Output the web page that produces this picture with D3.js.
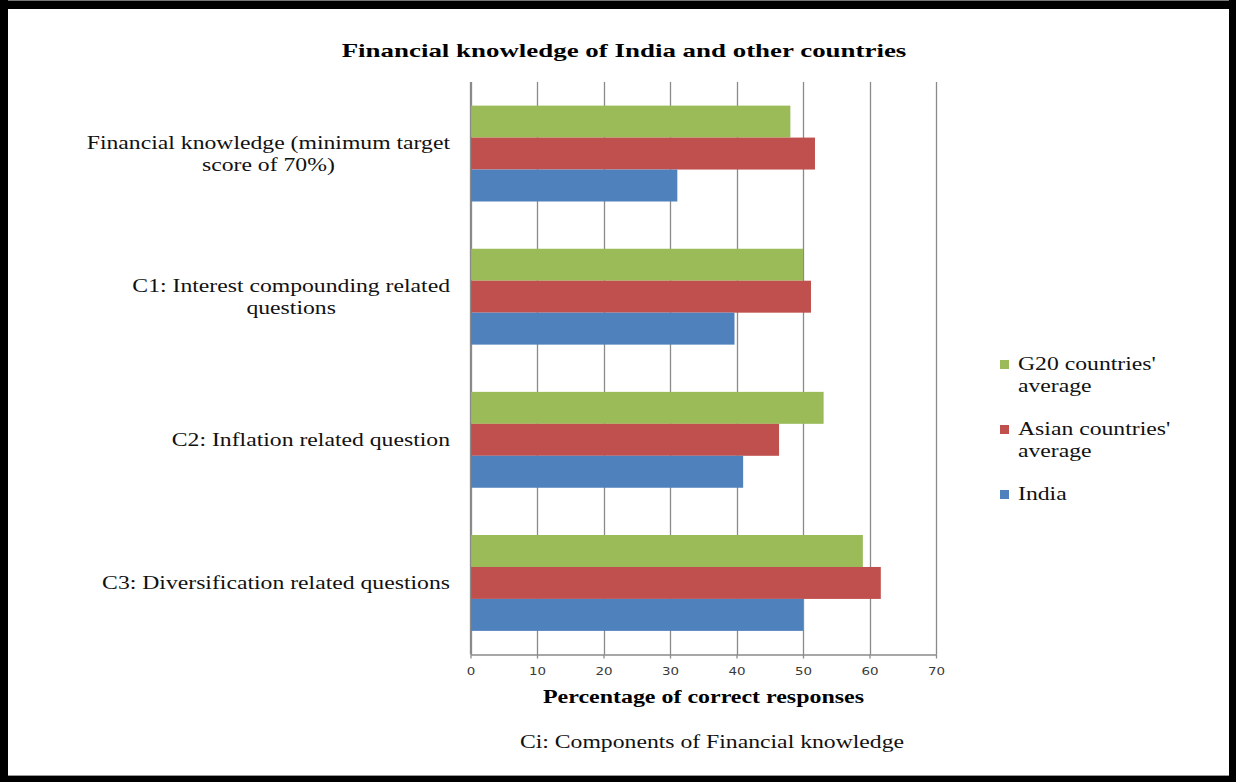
<!DOCTYPE html>
<html>
<head>
<meta charset="utf-8">
<script src="https://cdn.jsdelivr.net/npm/d3@7"></script>
<style>
  html, body { margin: 0; padding: 0; background: #fff; }
  svg { display: block; }
</style>
</head>
<body>
<svg id="chart" width="1236" height="782"></svg>
<script>
// ---------------- DATA ----------------
const categories = [
  "Financial knowledge (minimum target score of 70%)",
  "C1: Interest compounding related questions",
  "C2: Inflation related question",
  "C3: Diversification related questions"
];
const categoryLines = [
  ["Financial knowledge (minimum target", "score of 70%)"],
  ["C1: Interest compounding related", "questions"],
  ["C2: Inflation related question"],
  ["C3: Diversification related questions"]
];
const seriesNames = ["G20 countries' average", "Asian countries' average", "India"];
const legendLines = [["G20 countries'", "average"], ["Asian countries'", "average"], ["India"]];
const g20Values = [48.1, 50.0, 53.1, 59.0];
const asianValues = [51.8, 51.2, 46.4, 61.7];
const indiaValues = [31.1, 39.7, 41.0, 50.0];
const xTicks = [0, 10, 20, 30, 40, 50, 60, 70];
const seriesColors = ["#9BBB59", "#C0504D", "#4F81BD"];
const titleText = "Financial knowledge of India and other countries";
const xAxisTitle = "Percentage of correct responses";
const noteText = "Ci: Components of Financial knowledge";

// ---------------- LAYOUT ----------------
const W = 1236, H = 782;
const plot = { left: 470.5, right: 936, top: 82, bottom: 654.5 };
const SX = 1.28; // horizontal stretch of the source image text
const serif = "'Liberation Serif', 'Times New Roman', serif";
const sans = "'DejaVu Sans', Verdana, sans-serif";

const svg = d3.select("#chart");
svg.append("rect").attr("width", W).attr("height", H).attr("fill", "#fff");

function stretch(sel, sx) {
  sel.each(function () {
    const w = this.getComputedTextLength();
    d3.select(this).attr("textLength", w * sx).attr("lengthAdjust", "spacingAndGlyphs");
  });
  return sel;
}

const seriesData = [g20Values, asianValues, indiaValues];

const x = d3.scaleLinear().domain([0, 70]).range([plot.left, plot.right]);
const y = d3.scaleBand().domain(categories).range([plot.top, plot.bottom])
  .paddingInner(0.33).paddingOuter(0.165);
const ys = d3.scaleBand().domain(seriesNames).range([0, y.bandwidth()]);

// gridlines
const grid = svg.append("g");
grid.selectAll("line").data(xTicks).join("line")
  .attr("x1", d => Math.round(x(d)) + 0.5).attr("x2", d => Math.round(x(d)) + 0.5)
  .attr("y1", plot.top).attr("y2", plot.bottom)
  .attr("stroke", "#8a8a8a").attr("stroke-width", 1.3);

// bars
const groups = svg.append("g").selectAll("g").data(categories).join("g")
  .attr("transform", d => `translate(0,${y(d)})`);
groups.each(function (cat, ci) {
  d3.select(this).selectAll("rect").data(seriesNames).join("rect")
    .attr("x", x(0))
    .attr("y", s => ys(s))
    .attr("width", (s, si) => x(seriesData[si][ci]) - x(0))
    .attr("height", ys.bandwidth())
    .attr("fill", (s, si) => seriesColors[si]);
});

// x axis
const xAxis = d3.axisBottom(x).tickValues(xTicks).tickSize(4).tickPadding(9).tickSizeOuter(0);
const gx = svg.append("g").attr("transform", `translate(0,${plot.bottom})`).call(xAxis);
gx.select(".domain").attr("stroke", "#8a8a8a").attr("stroke-width", 1.3);
gx.selectAll(".tick line").attr("stroke", "#8a8a8a").attr("stroke-width", 1.3);
gx.selectAll(".tick text").attr("font-family", sans).attr("font-size", 11).attr("fill", "#3a3a3a");
stretch(gx.selectAll(".tick text"), 1.22);

// y axis line (left)
svg.append("line").attr("x1", plot.left).attr("x2", plot.left)
  .attr("y1", plot.top).attr("y2", plot.bottom).attr("stroke", "#8a8a8a").attr("stroke-width", 1.3);

// category labels
const labelRight = 450, lh = 22.5;
categories.forEach((cat, ci) => {
  const lines = categoryLines[ci];
  const cy = y(cat) + y.bandwidth() / 2;
  const g = svg.append("g");
  const texts = g.selectAll("text").data(lines).join("text")
    .attr("font-family", serif).attr("font-size", 18.5).attr("fill", "#111")
    .attr("text-anchor", "middle")
    .attr("y", (d, i) => cy + (i - (lines.length - 1) / 2) * lh + 6.5)
    .text(d => d);
  let maxW = 0;
  texts.each(function () { maxW = Math.max(maxW, this.getComputedTextLength() * SX); });
  stretch(texts, SX);
  texts.attr("x", labelRight - maxW / 2);
});

// title
stretch(svg.append("text").attr("x", 624).attr("y", 57).attr("text-anchor", "middle")
  .attr("font-family", serif).attr("font-weight", "bold").attr("font-size", 19.5)
  .attr("fill", "#000").text(titleText), 1.38);

// x axis title
stretch(svg.append("text").attr("x", 703.5).attr("y", 703).attr("text-anchor", "middle")
  .attr("font-family", serif).attr("font-weight", "bold").attr("font-size", 18)
  .attr("fill", "#000").text(xAxisTitle), 1.33);

// note
stretch(svg.append("text").attr("x", 712).attr("y", 748).attr("text-anchor", "middle")
  .attr("font-family", serif).attr("font-size", 18.5)
  .attr("fill", "#111").text(noteText), SX);

// legend
const legX = 1000, legTextX = 1018;
const legBase = [370, 435, 500];
seriesNames.forEach((s, si) => {
  const g = svg.append("g");
  g.append("rect").attr("x", legX).attr("y", legBase[si] - 10).attr("width", 9).attr("height", 9)
    .attr("fill", seriesColors[si]);
  const t = g.selectAll("text").data(legendLines[si]).join("text")
    .attr("x", legTextX).attr("y", (d, i) => legBase[si] + i * 22)
    .attr("font-family", serif).attr("font-size", 18.5).attr("fill", "#111")
    .text(d => d);
  stretch(t, SX);
});

// frame
svg.append("line").attr("x1", 0).attr("x2", W).attr("y1", 0.5).attr("y2", 0.5).attr("stroke", "#777");
svg.append("line").attr("x1", 0).attr("x2", W).attr("y1", 775.5).attr("y2", 775.5).attr("stroke", "#999");
svg.append("rect").attr("x", 0).attr("y", 1).attr("width", W).attr("height", 8).attr("fill", "#000");
svg.append("rect").attr("x", 0).attr("y", 0).attr("width", 8).attr("height", H).attr("fill", "#000");
svg.append("rect").attr("x", 1229).attr("y", 0).attr("width", 7).attr("height", H).attr("fill", "#000");
svg.append("rect").attr("x", 0).attr("y", 776).attr("width", W).attr("height", 6).attr("fill", "#000");
</script>
</body>
</html>
